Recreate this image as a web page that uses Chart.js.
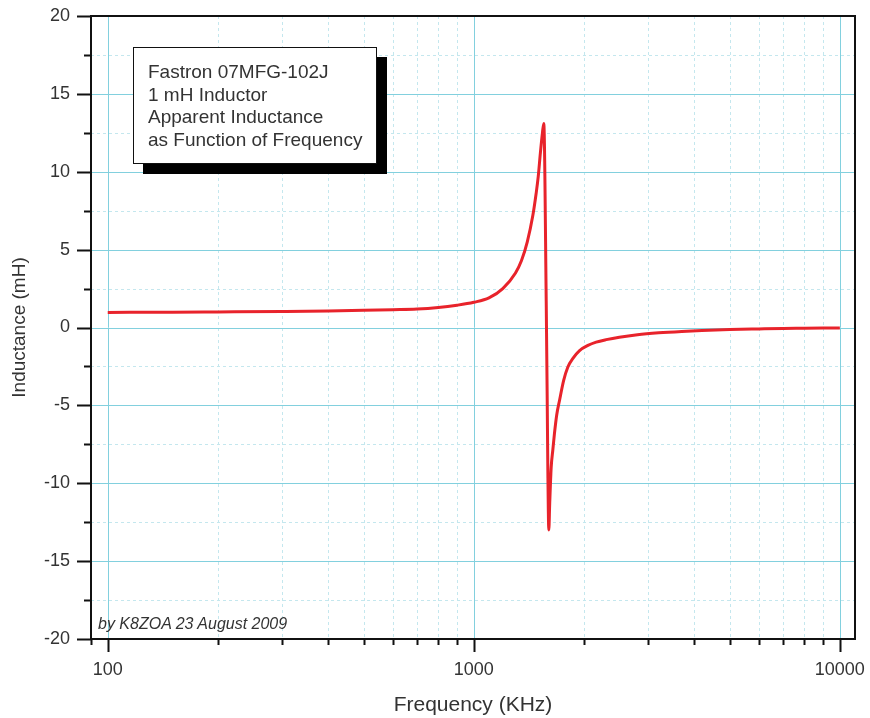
<!DOCTYPE html>
<html lang="en">
<head>
<meta charset="UTF-8">
<title>Fastron 07MFG-102J apparent inductance</title>
<style>
  body { margin: 0; background: #fff; font-family: "Liberation Sans", Arial, sans-serif; }
  .wrap { position: relative; width: 870px; height: 718px; }
  .note {
    position: absolute; left: 133px; top: 47px; width: 228px; height: 102px;
    padding: 13px 0 0 14px; background: #fff; border: 1.5px solid #111;
    box-shadow: 10px 10px 0 #000; font-size: 19px; line-height: 22.7px; color: #333;
    white-space: nowrap;
  }
  .credit {
    position: absolute; left: 98px; top: 615px; font-size: 16px; line-height: 18px;
    font-style: italic; color: #333;
  }
</style>
</head>
<body>
<div class="wrap">
  <canvas id="chart" width="870" height="718"></canvas>
  <div class="note">Fastron 07MFG-102J<br>1 mH Inductor<br>Apparent Inductance<br>as Function of Frequency</div>
  <div class="credit">by K8ZOA 23 August 2009</div>
</div>

<script src="https://cdn.jsdelivr.net/npm/chart.js"></script>
<script>
// frequency in kHz, apparent inductance in mH
const freqKHz = [100, 150, 200, 300, 400, 500, 600, 700, 800, 900, 1000, 1100, 1200, 1300,
  1350, 1400, 1450, 1480, 1500, 1520, 1540, 1553, 1577, 1587, 1593, 1603, 1612, 1627, 1645,
  1661, 1685, 1714, 1760, 1806, 1870, 1945, 2050, 2159, 2300, 2498, 2800, 3200, 3700, 4200,
  5000, 6000, 7000, 8000, 9000, 10000];
const inductance = [0.97, 0.98, 1.0, 1.03, 1.06, 1.1, 1.14, 1.18, 1.28, 1.43, 1.62, 1.9, 2.5, 3.5,
  4.3, 5.5, 7.2, 8.6, 9.7, 11.2, 12.5, 13.1, 1.7, -4.7, -9.0, -13.0, -11.3, -9.0, -7.8,
  -6.8, -5.6, -4.7, -3.4, -2.55, -1.95, -1.48, -1.15, -0.94, -0.78, -0.62, -0.46, -0.34, -0.25, -0.19,
  -0.13, -0.09, -0.06, -0.05, -0.04, -0.03];

const xTicks = [90, 100, 200, 300, 400, 500, 600, 700, 800, 900, 1000,
  2000, 3000, 4000, 5000, 6000, 7000, 8000, 9000, 10000];
const xLabels = [100, 1000, 10000];
const yTicks = [-20, -17.5, -15, -12.5, -10, -7.5, -5, -2.5, 0, 2.5, 5, 7.5, 10, 12.5, 15, 17.5, 20];
const yLabels = [-20, -15, -10, -5, 0, 5, 10, 15, 20];

const majorGrid = '#82d0de';
const minorGrid = '#c4e7ee';
const textColor = '#333';

const points = freqKHz.map((f, i) => ({ x: f, y: inductance[i] }));

function isMajorX(v) { return xLabels.includes(v); }
function isMajorY(v) { return yLabels.includes(v); }

// cyan grid: dashed minor lines, solid major lines
const gridPlugin = {
  id: 'cyanGrid',
  beforeDatasetsDraw(chart) {
    const ctx = chart.ctx;
    const a = chart.chartArea;
    const xs = chart.scales.x, ys = chart.scales.y;
    ctx.save();
    ctx.lineWidth = 1;
    [false, true].forEach(major => {
      ctx.strokeStyle = major ? majorGrid : minorGrid;
      ctx.setLineDash(major ? [] : [3, 3]);
      ctx.beginPath();
      xTicks.forEach(v => {
        if (isMajorX(v) !== major) return;
        const px = Math.round(xs.getPixelForValue(v)) + 0.5;
        if (px <= a.left + 1) return;
        ctx.moveTo(px, a.top);
        ctx.lineTo(px, a.bottom);
      });
      yTicks.forEach(v => {
        if (isMajorY(v) !== major) return;
        const py = Math.round(ys.getPixelForValue(v)) + 0.5;
        ctx.moveTo(a.left, py);
        ctx.lineTo(a.right, py);
      });
      ctx.stroke();
    });
    ctx.restore();
  },
  // frame and outward tick marks
  afterDraw(chart) {
    const ctx = chart.ctx;
    const a = chart.chartArea;
    const xs = chart.scales.x, ys = chart.scales.y;
    ctx.save();
    ctx.strokeStyle = '#111';
    ctx.lineWidth = 2;
    ctx.strokeRect(a.left, a.top, a.right - a.left, a.bottom - a.top);
    ctx.beginPath();
    xTicks.forEach(v => {
      const px = Math.round(xs.getPixelForValue(v)) + 0.5;
      const len = isMajorX(v) ? 13 : 6;
      ctx.moveTo(px, a.bottom);
      ctx.lineTo(px, a.bottom + len);
    });
    yTicks.forEach(v => {
      const py = Math.round(ys.getPixelForValue(v)) + 0.5;
      const len = isMajorY(v) ? 14 : 7;
      ctx.moveTo(a.left, py);
      ctx.lineTo(a.left - len, py);
    });
    ctx.stroke();
    ctx.restore();
  }
};

function noPad(s) {
  s.paddingTop = 0; s.paddingBottom = 0; s.paddingLeft = 0; s.paddingRight = 0;
}

new Chart(document.getElementById('chart').getContext('2d'), {
  type: 'scatter',
  data: {
    datasets: [{
      data: points,
      showLine: true,
      borderColor: '#e8232b',
      borderWidth: 3,
      pointRadius: 0,
      cubicInterpolationMode: 'monotone'
    }]
  },
  options: {
    responsive: false,
    animation: false,
    layout: { padding: { top: 16, right: 15, left: 0, bottom: 0 } },
    plugins: { legend: { display: false }, tooltip: { enabled: false } },
    scales: {
      x: {
        type: 'logarithmic',
        min: 90,
        max: 11000,
        afterBuildTicks: s => { s.ticks = xTicks.map(v => ({ value: v })); },
        afterFit: s => { s.height = 79; noPad(s); },
        grid: { display: false, drawTicks: false },
        border: { display: false },
        ticks: {
          autoSkip: false,
          maxRotation: 0,
          padding: 20,
          color: textColor,
          font: { family: 'Liberation Sans', size: 18 },
          callback: v => xLabels.includes(v) ? String(v) : ''
        },
        title: {
          display: true,
          text: 'Frequency (KHz)',
          color: textColor,
          font: { family: 'Liberation Sans', size: 21 },
          padding: { top: -1, bottom: 0 }
        }
      },
      y: {
        min: -20,
        max: 20,
        afterBuildTicks: s => { s.ticks = yTicks.map(v => ({ value: v })); },
        afterFit: s => { s.width = 91; noPad(s); },
        grid: { display: false, drawTicks: false },
        border: { display: false },
        ticks: {
          autoSkip: false,
          padding: 21,
          color: textColor,
          font: { family: 'Liberation Sans', size: 18 },
          callback: v => yLabels.includes(v) ? String(v) : ''
        },
        title: {
          display: true,
          text: 'Inductance (mH)',
          color: textColor,
          font: { family: 'Liberation Sans', size: 19 },
          padding: { top: 8, bottom: 0 }
        }
      }
    }
  },
  plugins: [gridPlugin]
});
</script>
</body>
</html>
